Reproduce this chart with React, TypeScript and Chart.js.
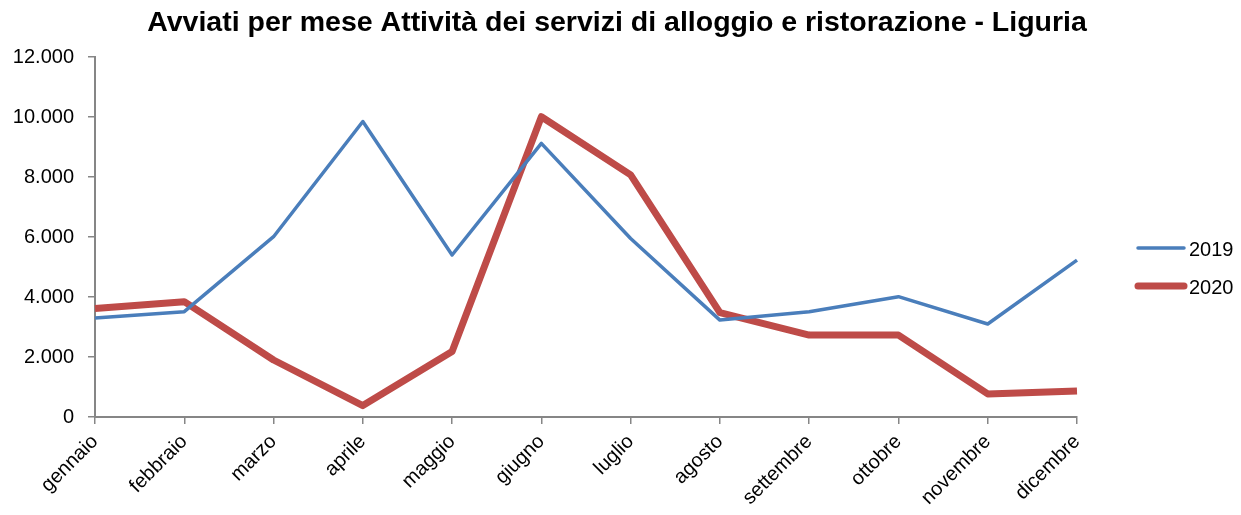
import React, { useEffect, useRef } from "react";
import { Chart, registerables } from "chart.js";

Chart.register(...registerables);

const months = ["gennaio", "febbraio", "marzo", "aprile", "maggio", "giugno", "luglio", "agosto", "settembre", "ottobre", "novembre", "dicembre"];
const values2019 = [3300, 3510, 6010, 9850, 5400, 9120, 5950, 3230, 3510, 4010, 3100, 5230];
const values2020 = [3620, 3845, 1900, 380, 2180, 10010, 8070, 3480, 2730, 2730, 770, 870];
const titleText = "Avviati per mese Attività dei servizi di alloggio e ristorazione - Liguria";
const seriesLabels = ["2019", "2020"];

const FONT = "'Liberation Sans', Arial, sans-serif";

function fmt(v: number): string {
  const s = Math.round(v).toString();
  return s.replace(/\B(?=(\d{3})+(?!\d))/g, ".");
}

const overlay = {
  id: "overlay",
  afterDraw(chart: any) {
    const ctx = chart.ctx;
    ctx.save();
    ctx.fillStyle = "#000";
    ctx.font = `bold 28.5px ${FONT}`;
    ctx.textAlign = "center";
    ctx.textBaseline = "alphabetic";
    ctx.fillText(titleText, 617, 31);
    // legend
    const items = chart.data.datasets;
    const ys = [248, 286];
    ctx.font = `20px ${FONT}`;
    ctx.textAlign = "left";
    items.forEach((ds: any, i: number) => {
      ctx.strokeStyle = ds.borderColor;
      ctx.lineWidth = ds.borderWidth;
      ctx.lineCap = "round";
      ctx.beginPath();
      ctx.moveTo(1138, ys[i]);
      ctx.lineTo(1184, ys[i]);
      ctx.stroke();
      ctx.fillStyle = "#000";
      ctx.fillText(ds.label, 1189, ys[i] + 7.5);
    });
    ctx.restore();
  },
};

export default function App() {
  const ref = useRef<HTMLCanvasElement>(null);
  useEffect(() => {
    document.body.style.margin = "0";
    const chart = new Chart(ref.current!, {
      type: "line",
      data: {
        labels: months,
        datasets: [
          {
            label: seriesLabels[0],
            data: values2019,
            borderColor: "#4A7EBB",
            borderWidth: 3.5,
            pointRadius: 0,
            tension: 0,
            borderJoinStyle: "round",
          },
          {
            label: seriesLabels[1],
            data: values2020,
            borderColor: "#BE4B48",
            borderWidth: 7,
            pointRadius: 0,
            tension: 0,
            borderJoinStyle: "round",
          },
        ],
      },
      options: {
        animation: false,
        responsive: false,
        layout: { padding: { top: 57, right: 164, left: 0, bottom: 0 } },
        plugins: { legend: { display: false }, title: { display: false }, tooltip: { enabled: false } },
        scales: {
          x: {
            offset: false,
            grid: { display: true, drawOnChartArea: false, tickLength: 7, color: "#868686", lineWidth: 1.5 },
            border: { color: "#868686", width: 2 },
            ticks: {
              maxRotation: 45,
              minRotation: 45,
              autoSkip: false,
              padding: 6,
              color: "#000",
              font: { family: FONT, size: 20 },
            },
            afterFit(scale: any) {
              scale.height = 98;
            },
          },
          y: {
            min: 0,
            max: 12000,
            grid: { display: true, drawOnChartArea: false, tickLength: 7, color: "#868686", lineWidth: 1.5 },
            border: { color: "#868686", width: 2 },
            ticks: {
              stepSize: 2000,
              padding: 14,
              color: "#000",
              font: { family: FONT, size: 20 },
              callback: (v: any) => fmt(Number(v)),
            },
            afterFit(scale: any) {
              scale.width = 95;
            },
          },
        },
      },
      plugins: [overlay],
    });
    return () => chart.destroy();
  }, []);
  return (
    <div style={{ width: 1241, height: 515, background: "#fff" }}>
      <canvas ref={ref} width={1241} height={515} style={{ display: "block" }} />
    </div>
  );
}
